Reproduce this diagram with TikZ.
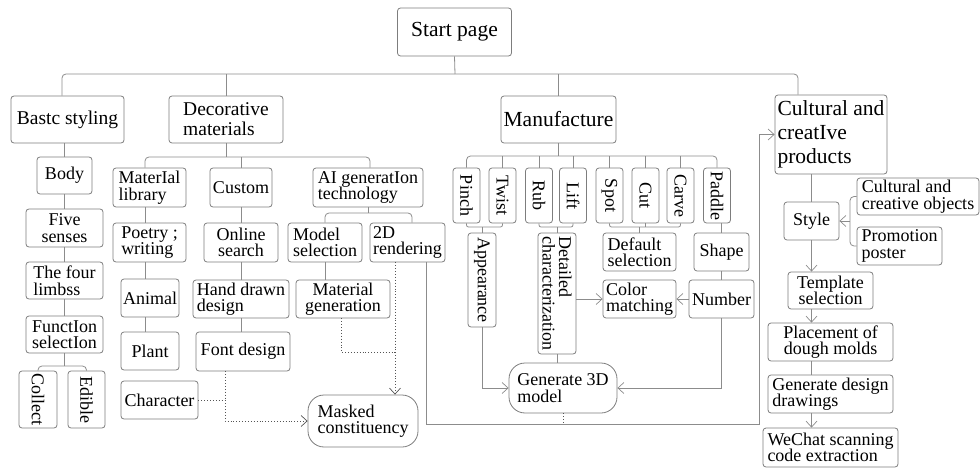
\documentclass[tikz,border=0pt]{standalone}
\usepackage{fontspec}
\setmainfont{LiberationSerif}[Extension=.ttf,UprightFont=*-Regular,BoldFont=*-Bold,ItalicFont=*-Italic,BoldItalicFont=*-BoldItalic]
\usetikzlibrary{arrows.meta}
\definecolor{lc}{RGB}{140,140,140}
\definecolor{bc}{RGB}{125,125,125}
\definecolor{dc}{RGB}{85,85,85}
\newcommand\myS{\fontsize{18}{16.5}\selectfont}
\newcommand\myM{\fontsize{19.5}{20}\selectfont}
\newcommand\myL{\fontsize{21.5}{24}\selectfont}
\newcommand\rot[1]{\rotatebox{-90}{#1}}
\begin{document}
\begin{tikzpicture}[x=1pt,y=-1pt,
  box/.style={draw=bc,line width=0.8pt,rounded corners=3pt,inner sep=1pt,align=center,font=\myS,text=black},
  ln/.style={draw=lc,line width=0.8pt},
  dt/.style={draw=dc,dotted,line width=0.9pt},
  rc/.style={rounded corners=4pt},
  rcs/.style={rounded corners=2pt},
  >={Straight Barb[length=6pt,width=11pt,line width=0.7pt]}]
\useasboundingbox (0,0) rectangle (980,468);

% level 0/1
\node[box,minimum width=114pt,minimum height=48pt,font=\myL] (start) at (454.5,32) {Start page};
\node[box,minimum width=113pt,minimum height=47pt,font=\myM] (bastc) at (67.5,119.5) {Bastc styling};
\node[box,minimum width=114pt,minimum height=47pt,font=\myM,align=left] (decor) at (226,119.5) {Decorative\\materials};
\node[box,minimum width=115pt,minimum height=47pt,font=\myL] (manuf) at (558.5,119.5) {Manufacture};
\node[box,minimum width=112pt,minimum height=79pt,font=\myL,align=left] (cult) at (831,134.5) {Cultural and\\creatIve\\products};

% basic styling branch
\node[box,minimum width=55pt,minimum height=37pt] (body) at (64.5,175.5) {Body};
\node[box,minimum width=77pt,minimum height=38pt] (five) at (64.5,228) {Five\\senses};
\node[box,minimum width=77pt,minimum height=37pt,align=left] (four) at (64.5,280.5) {The four\\limbss};
\node[box,minimum width=77pt,minimum height=37pt] (func) at (64.5,334.5) {FunctIon\\selectIon};
\node[box,minimum width=38pt,minimum height=57pt] (collect) at (38,399.5) {\rot{Collect}};
\node[box,minimum width=37pt,minimum height=57pt] (edible) at (86.5,399.5) {\rot{Edible}};

% decorative materials branch
\node[box,minimum width=73pt,minimum height=39pt,align=left] (matlib) at (149.5,187.5) {MaterIal\\library};
\node[box,minimum width=73pt,minimum height=39pt,align=left] (poetry) at (149.5,242.5) {Poetry ;\\writing};
\node[box,minimum width=58pt,minimum height=38pt] (animal) at (150,298) {Animal};
\node[box,minimum width=58pt,minimum height=38pt] (plant) at (150,351) {Plant};
\node[box,minimum width=77pt,minimum height=38pt] (character) at (159.5,400) {Character};
\node[box,minimum width=62pt,minimum height=39pt] (custom) at (241,187.5) {Custom};
\node[box,minimum width=74pt,minimum height=39pt] (online) at (241,242.5) {Online\\search};
\node[box,minimum width=96pt,minimum height=38pt,align=left] (hand) at (241,299) {Hand drawn\\design};
\node[box,minimum width=94pt,minimum height=39pt] (font) at (243,351.5) {Font design};
\node[box,minimum width=110pt,minimum height=39pt,align=left] (aigen) at (368,187.5) {AI generatIon\\technology};
\node[box,minimum width=74pt,minimum height=39pt,align=left] (model) at (325,242.5) {Model\\selection};
\node[box,minimum width=75pt,minimum height=39pt,align=left] (render2d) at (407.5,242.5) {2D\\rendering};
\node[box,minimum width=94pt,minimum height=38pt] (matgen) at (343,299) {Material\\generation};
\node[box,rounded corners=16pt,minimum width=110pt,minimum height=52pt,align=left] (masked) at (363,421) {Masked\\constituency};

% manufacture branch
\node[box,minimum width=27pt,minimum height=55pt] (pinch) at (466.5,195.5) {\rot{Pinch}};
\node[box,minimum width=27pt,minimum height=55pt] (twist) at (502.5,195.5) {\rot{Twist}};
\node[box,minimum width=27pt,minimum height=55pt] (rub) at (539,195.5) {\rot{Rub}};
\node[box,minimum width=27pt,minimum height=55pt] (lift) at (573,195.5) {\rot{Lift}};
\node[box,minimum width=27pt,minimum height=55pt] (spot) at (609.5,195.5) {\rot{Spot}};
\node[box,minimum width=27pt,minimum height=55pt] (cut) at (645.5,195.5) {\rot{Cut}};
\node[box,minimum width=27pt,minimum height=55pt] (carve) at (680.5,195.5) {\rot{Carve}};
\node[box,minimum width=27pt,minimum height=55pt] (paddle) at (717,195.5) {\rot{Paddle}};
\node[box,minimum width=28pt,minimum height=94pt] (appear) at (482,280) {\rot{Appearance}};
\node[box,minimum width=38pt,minimum height=121pt] (detail) at (557,293.5) {\rot{\vbox{\hbox{Detailed}\hbox{characterization}}}};
\node[box,minimum width=73pt,minimum height=38pt,align=left] (default) at (639.5,252) {Default\\selection};
\node[box,minimum width=73pt,minimum height=38pt,align=left] (color) at (639.5,299) {Color\\matching};
\node[box,minimum width=55pt,minimum height=38pt] (shape) at (721.5,252) {Shape};
\node[box,minimum width=65pt,minimum height=38pt] (number) at (721.5,299) {Number};
\node[box,rounded corners=16pt,minimum width=108pt,minimum height=50pt,align=left] (gen3d) at (563,388) {Generate 3D\\model};

% cultural branch
\node[box,minimum width=55pt,minimum height=38pt] (style) at (811.5,221) {Style};
\node[box,minimum width=122pt,minimum height=37pt,align=left] (cobj) at (918,196.5) {Cultural and\\creative objects};
\node[box,minimum width=85pt,minimum height=38pt,align=left] (promo) at (899.5,246) {Promotion\\poster};
\node[box,minimum width=85pt,minimum height=37pt] (template) at (830.5,290.5) {Template\\selection};
\node[box,minimum width=125pt,minimum height=38pt] (place) at (830.5,342) {Placement of\\dough molds};
\node[box,minimum width=125pt,minimum height=38pt,align=left] (gendraw) at (830.5,394) {Generate design\\drawings};
\node[box,minimum width=135pt,minimum height=39pt,align=left] (wechat) at (830.5,447.5) {WeChat scanning\\code extraction};

% top bracket
\coordinate (t0) at (455,74);
\draw[ln] (start.south) -- (t0);
\draw[ln,rc] (bastc.north -| 62,0) |- (t0) -| (cult.north -| 798,0);
\draw[ln] (decor.north) -- (decor.north |- t0);
\draw[ln] (manuf.north) -- (manuf.north |- t0);

% basic styling chain
\draw[ln] (bastc.south -| body) -- (body.north);
\draw[ln] (body.south) -- (five.north);
\draw[ln] (five.south) -- (four.north);
\draw[ln] (four.south) -- (func.north);
\draw[ln] (func.south) -- (func.south |- 0,366);
\draw[ln,rc] (collect.north) |- (func.south |- 0,366) -| (edible.north);

% decorative chain
\coordinate (d0) at (226,157);
\draw[ln] (decor.south) -- (d0);
\draw[ln,rc] (matlib.north -| 145,0) |- (d0) -| (aigen.north -| 370,0);
\draw[ln] (custom.north) -- (custom.north |- d0);
\draw[ln] (matlib.south -| 145,0) -- (poetry.north -| 145,0);
\draw[ln] (poetry.south -| 145,0) -- (animal.north -| 145,0);
\draw[ln] (animal.south -| 145,0) -- (plant.north -| 145,0);
\draw[ln] (custom.south) -- (online.north);
\draw[ln] (online.south) -- (hand.north);
\draw[ln] (hand.south) -- (font.north -| hand);
\draw[ln] (aigen.south) -- (aigen.south |- 0,213);
\draw[ln,rc] (model.north) |- (aigen.south |- 0,213) -| (render2d.north -| 412,0);
\draw[ln] (model.south) -- (matgen.north -| model);

% dotted connectors
\draw[dt] (matgen.south -| 341,0) |- (395,352);
\draw[dt,->] (render2d.south -| 395,0) -- (masked.north -| 395,0);
\draw[dt,->] (font.south -| 225,0) |- (masked.west);
\draw[dt] (character.east) -- (character.east -| 225,0);
\draw[dt] (gen3d.south) -- (gen3d.south |- 0,424);

% long connector to cultural products
\draw[ln,->] (render2d.south -| 426,0) |- (759,424) |- (cult.west);

% manufacture chain
\coordinate (m0) at (558.5,156);
\draw[ln] (manuf.south) -- (m0);
\draw[ln,rc] (pinch.north) |- (m0) -| (paddle.north);
\foreach \n in {twist,rub,lift,spot,cut,carve} {\draw[ln] (\n.north) -- (\n.north |- m0);}
\draw[ln,rcs] (pinch.south) |- (appear.north |- 0,227) -| (twist.south);
\draw[ln] (appear.north) -- (appear.north |- 0,227);
\draw[ln,rcs] (rub.south) |- (detail.north |- 0,227) -| (lift.south);
\draw[ln] (detail.north) -- (detail.north |- 0,227);
\draw[ln,rcs] (spot.south) |- (default.north |- 0,227) -| (carve.south);
\draw[ln] (cut.south) -- (cut.south |- 0,227);
\draw[ln] (default.north) -- (default.north |- 0,227);
\draw[ln] (shape.north) -- (shape.north |- paddle.south);
\draw[ln] (shape.south) -- (number.north);
\draw[ln,->] (appear.south) |- (gen3d.west);
\draw[ln] (detail.south) -- (detail.south |- gen3d.north);
\draw[ln,->] (detail.east |- color.west) -- (color.west);
\draw[ln,->] (number.west) -- (color.east);
\draw[ln,->] (number.south) |- (gen3d.east);

% cultural chain
\draw[ln] (cult.south -| style) -- (style.north);
\draw[ln,->] (style.south) -- (template.north -| style);
\draw[ln,->] (template.south -| style) -- (place.north -| style);
\draw[ln] (place.south -| style) -- (gendraw.north -| style);
\draw[ln,->] (gendraw.south -| style) -- (wechat.north -| style);
\draw[ln,rc] (cobj.west) -| (850,221) |- (promo.west);
\draw[ln,->] (850,221) -- (style.east);
\end{tikzpicture}
\end{document}
